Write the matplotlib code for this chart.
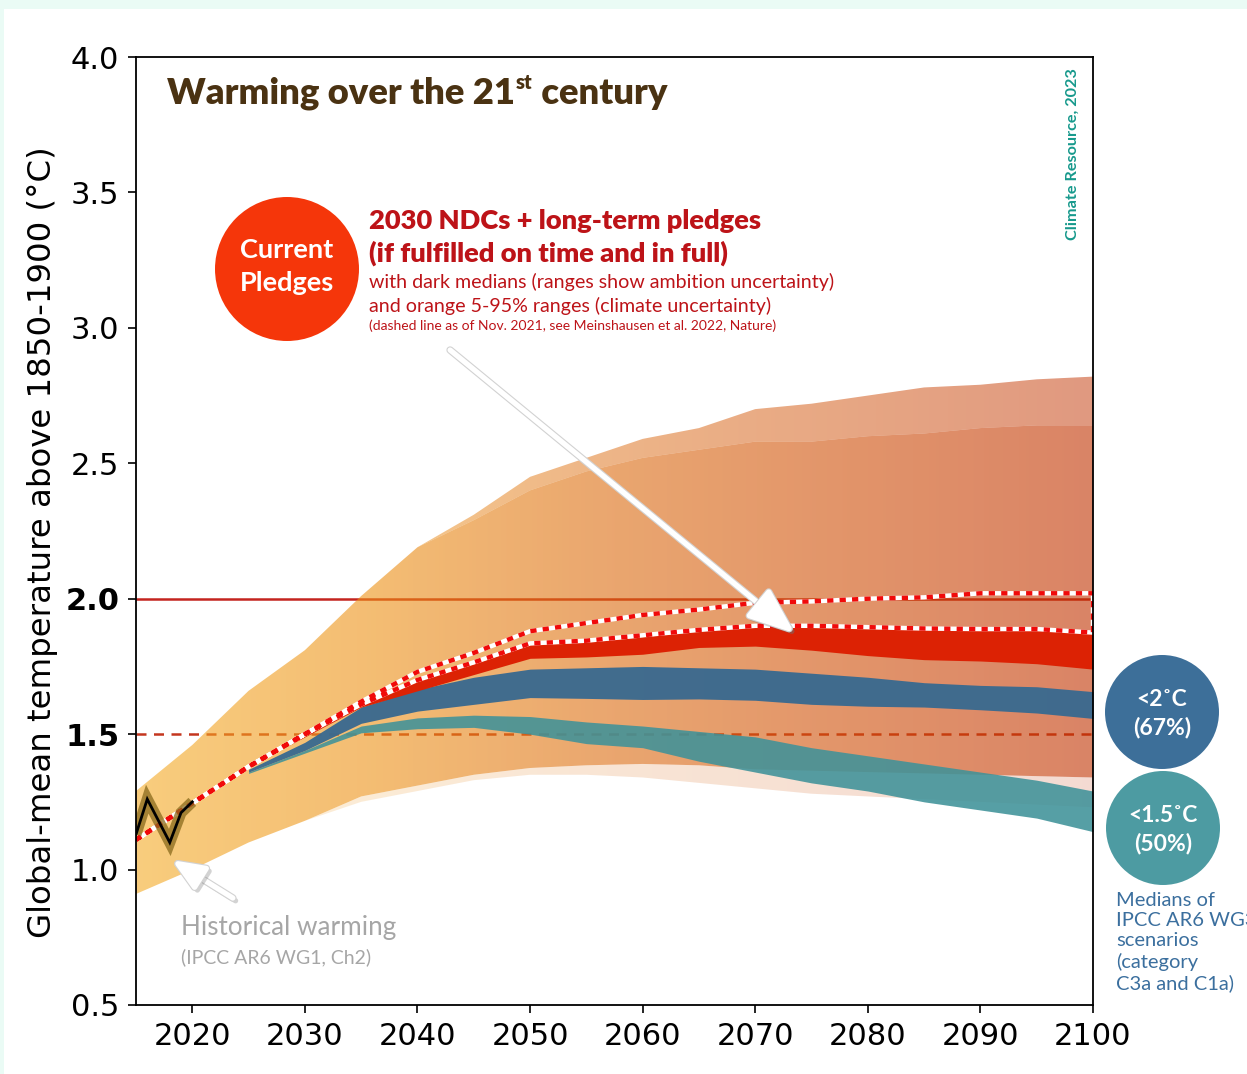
import numpy as np
import matplotlib
matplotlib.use('Agg')
import matplotlib.pyplot as plt
from matplotlib.colors import LinearSegmentedColormap, to_rgb
from matplotlib.patches import Ellipse, Rectangle
import matplotlib.patheffects as pe

# ---------------- data ----------------
years = [2015, 2020, 2025, 2030, 2035, 2040, 2045, 2050, 2055, 2060,
         2065, 2070, 2075, 2080, 2085, 2090, 2095, 2100]

# climate uncertainty 5-95% (current pledges)
clim_upper = [1.29, 1.46, 1.66, 1.81, 2.01, 2.19, 2.29, 2.40, 2.47, 2.52,
              2.55, 2.58, 2.58, 2.60, 2.61, 2.63, 2.64, 2.64]
clim_lower = [0.91, 1.00, 1.10, 1.18, 1.27, 1.31, 1.35, 1.375, 1.385, 1.39,
              1.385, 1.37, 1.365, 1.36, 1.355, 1.35, 1.345, 1.34]
# Nov. 2021 5-95% envelope
clim_upper_2021 = [1.29, 1.46, 1.66, 1.81, 2.01, 2.19, 2.31, 2.45, 2.52, 2.59,
                   2.63, 2.70, 2.72, 2.75, 2.78, 2.79, 2.81, 2.82]
clim_lower_2021 = [0.91, 1.00, 1.10, 1.18, 1.25, 1.29, 1.33, 1.35, 1.35, 1.34,
                   1.32, 1.30, 1.28, 1.27, 1.26, 1.25, 1.24, 1.23]

# ambition range of current pledges (dark red)
pledge_top = [1.11, 1.245, 1.38, 1.50, 1.61, 1.70, 1.76, 1.83, 1.84, 1.86,
              1.88, 1.90, 1.90, 1.895, 1.89, 1.89, 1.89, 1.885]
pledge_bot = [1.11, 1.245, 1.38, 1.49, 1.60, 1.66, 1.72, 1.78, 1.785, 1.795,
              1.82, 1.825, 1.81, 1.79, 1.775, 1.77, 1.76, 1.74]

# dashed outline: pledges as of Nov. 2021
nov21_upper = [1.11, 1.245, 1.38, 1.50, 1.62, 1.73, 1.80, 1.88, 1.91, 1.94,
               1.96, 1.985, 1.99, 2.00, 2.005, 2.02, 2.02, 2.02]
nov21_lower = [1.11, 1.245, 1.38, 1.50, 1.61, 1.70, 1.765, 1.835, 1.845, 1.865,
               1.885, 1.90, 1.90, 1.895, 1.89, 1.888, 1.888, 1.875]

# IPCC AR6 WG3 medians
c3a_top = [None, None, 1.37, 1.47, 1.60, 1.665, 1.71, 1.74, 1.745, 1.75,
           1.745, 1.74, 1.725, 1.71, 1.69, 1.68, 1.675, 1.657]
c3a_bot = [None, None, 1.36, 1.44, 1.54, 1.585, 1.61, 1.635, 1.632, 1.628,
           1.63, 1.625, 1.61, 1.603, 1.60, 1.59, 1.578, 1.558]
c1a_top = [None, None, 1.36, 1.44, 1.53, 1.56, 1.57, 1.565, 1.545, 1.53,
           1.51, 1.49, 1.45, 1.42, 1.39, 1.36, 1.33, 1.29]
c1a_bot = [None, None, 1.355, 1.43, 1.505, 1.52, 1.525, 1.50, 1.465, 1.45,
           1.40, 1.36, 1.32, 1.29, 1.25, 1.22, 1.19, 1.14]

hist_years = [2015, 2016, 2017, 2018, 2019, 2020]
hist_temp = [1.13, 1.26, 1.18, 1.10, 1.21, 1.25]

xticks = [2020, 2030, 2040, 2050, 2060, 2070, 2080, 2090, 2100]
yticks = [0.5, 1.0, 1.5, 2.0, 2.5, 3.0, 3.5, 4.0]

# ---------------- figure ----------------
W, H = 1247, 1074
fig = plt.figure(figsize=(W / 100, H / 100), dpi=100, facecolor='#eafbf5')
fig.add_artist(Rectangle((4 / W, 0), 1, 1 - 9 / H, transform=fig.transFigure,
                         facecolor='white', edgecolor='none', zorder=-10))

def fxy(px, py):
    return px / W, 1 - py / H

ax = fig.add_axes([136 / W, 1 - 1005 / H, (1093 - 136) / W, (1005 - 57) / H])
ax.set_facecolor('none')

yr = np.array(years, dtype=float)

# reference lines (under the semi-transparent orange)
ax.axhline(2.0, color='#c4241f', lw=1.8, zorder=1)
ax.axhline(1.5, color='#c4361f', lw=1.8, ls=(0, (4, 3)), zorder=1)

# horizontal gradient for the orange ranges
alpha_main = 0.6
comp = ['#f9cd7d', '#f4bd73', '#eaa66f', '#e2946a', '#da8466']
base = []
for c in comp:
    rgb = np.array(to_rgb(c))
    b = (rgb - (1 - alpha_main)) / alpha_main
    base.append(np.clip(b, 0, 1))
cmap = LinearSegmentedColormap.from_list('warm', base)
grad = cmap(np.linspace(0, 1, 512))[None, :, :]


def grad_fill(lo, hi, alpha, z):
    poly = ax.fill_between(yr, lo, hi, facecolor='none', lw=0)
    im = ax.imshow(grad, extent=[2015, 2100, 0.5, 4.0], aspect='auto',
                   origin='lower', alpha=alpha, zorder=z, interpolation='bilinear')
    im.set_clip_path(poly.get_paths()[0], transform=ax.transData)


grad_fill(clim_upper, clim_upper_2021, 0.5, 2)
grad_fill(clim_lower_2021, clim_lower, 0.18, 2)
grad_fill(clim_lower, clim_upper, alpha_main, 2)

# IPCC medians
m = slice(2, None)
ax.fill_between(yr[m], np.array(c1a_bot[m], float), np.array(c1a_top[m], float),
                color='#3f9299', alpha=0.88, lw=0, zorder=3)
ax.fill_between(yr[m], np.array(c3a_bot[m], float), np.array(c3a_top[m], float),
                color='#3b6a8f', alpha=0.97, lw=0, zorder=4)

# current pledges ambition range
ax.fill_between(yr, pledge_bot, pledge_top, color='#dc2204', lw=0, zorder=5)

# Nov 2021 outline
ox = np.concatenate([yr, yr[::-1], yr[:1]])
oy = np.concatenate([nov21_upper, nov21_lower[::-1], nov21_upper[:1]])
ax.plot(ox, oy, color='white', lw=3.2, zorder=6, solid_joinstyle='miter')
ax.plot(ox, oy, color='#f00a0a', lw=3.2, ls=(0, (1.4, 1.4)), zorder=6.1)

# historical warming
ax.plot(hist_years, hist_temp, color='#8a6a1c', lw=8, alpha=0.75, zorder=7,
        solid_joinstyle='miter', solid_capstyle='butt')
ax.plot(hist_years, hist_temp, color='black', lw=2.0, zorder=7.1,
        solid_joinstyle='miter')

ax.set_xlim(2015, 2100)
ax.set_ylim(0.5, 4.0)

ax.set_xticks(xticks)
ax.set_xticklabels([str(x) for x in xticks])
ax.set_yticks(yticks)
ax.set_yticklabels(['%.1f' % y for y in yticks])
ax.tick_params(direction='out', length=6, width=1.2, labelsize=22, pad=6,
               colors='black')
for lab in ax.get_yticklabels():
    lab.set_fontfamily('DejaVu Sans')
    if lab.get_text() in ('1.5', '2.0'):
        lab.set_fontweight('bold')
for lab in ax.get_xticklabels():
    lab.set_fontfamily('DejaVu Sans')
for s in ax.spines.values():
    s.set_linewidth(1.3)
    s.set_zorder(10)

fig.text(43 / W, 1 - 542 / H, 'Global-mean temperature above 1850-1900 (°C)',
         rotation=90, ha='center', va='center', fontsize=23.3,
         family=['DejaVu Sans'])

# arrows (white with a soft grey shadow)
arrow_fx = [pe.SimpleLineShadow(offset=(2, -2), shadow_color='#707070', alpha=0.3),
            pe.Stroke(linewidth=5.4, foreground='#d2d2d2'),
            pe.Normal()]
ax.annotate('', xy=(2073.5, 1.873), xytext=(2042.9, 2.918),
            arrowprops=dict(arrowstyle='-|>,head_length=1.4,head_width=0.55',
                            color='white', lw=3.8, mutation_scale=20,
                            shrinkA=0, shrinkB=0, path_effects=arrow_fx),
            zorder=9)
ax.annotate('', xy=(2018.2, 1.035), xytext=(2023.6, 0.895),
            arrowprops=dict(arrowstyle='-|>,head_length=1.2,head_width=0.5',
                            color='white', lw=3.8, mutation_scale=16,
                            shrinkA=0, shrinkB=0, path_effects=arrow_fx),
            zorder=9)

txt_font = ['Lato', 'DejaVu Sans']

# title with superscript
fig.canvas.draw()
r = fig.canvas.get_renderer()
tx, ty = fxy(167, 104)
t1 = fig.text(tx, ty, 'Warming over the 21', fontsize=26.2, fontweight='heavy',
              color='#4a3212', family=txt_font, va='baseline')
bb = t1.get_window_extent(r)
t2 = fig.text(bb.x1 / W + 1 / W, ty + 15 / H, 'st', fontsize=14.5, fontweight='heavy',
              color='#4a3212', family=txt_font, va='baseline')
bb2 = t2.get_window_extent(r)
fig.text(bb2.x1 / W, ty, ' century', fontsize=26.2, fontweight='heavy',
         color='#4a3212', family=txt_font, va='baseline')

# Current pledges circle
cx, cy = fxy(287, 269)
fig.add_artist(Ellipse((cx, cy), 2 * 72 / W, 2 * 72 / H, transform=fig.transFigure,
                       facecolor='#f5360a', edgecolor='none', zorder=5))
fig.text(cx, 1 - 250 / H, 'Current', ha='center', va='center', fontsize=19.5,
         fontweight='bold', color='white', family=txt_font, zorder=6)
fig.text(cx, 1 - 283 / H, 'Pledges', ha='center', va='center', fontsize=19.5,
         fontweight='bold', color='white', family=txt_font, zorder=6)

red = '#bd1318'
fig.text(369 / W, 1 - 229 / H, '2030 NDCs + long-term pledges', fontsize=19.6,
         fontweight='heavy', color=red, family=txt_font, va='baseline')
fig.text(369 / W, 1 - 262 / H, '(if fulfilled on time and in full)', fontsize=19.6,
         fontweight='heavy', color=red, family=txt_font, va='baseline')
fig.text(369 / W, 1 - 288 / H, 'with dark medians (ranges show ambition uncertainty)',
         fontsize=14.1, color=red, family=txt_font, va='baseline')
fig.text(369 / W, 1 - 312 / H, 'and orange 5-95% ranges (climate uncertainty)',
         fontsize=14.1, color=red, family=txt_font, va='baseline')
fig.text(369 / W, 1 - 330 / H,
         '(dashed line as of Nov. 2021, see Meinshausen et al. 2022, Nature)',
         fontsize=10, color=red, family=txt_font, va='baseline')

fig.text(1073 / W, 1 - 154 / H, 'Climate Resource, 2023', rotation=90, ha='center',
         va='center', fontsize=11.7, fontweight='bold', color='#17998c', family=txt_font)

fig.text(181 / W, 1 - 928 / H, 'Historical warming', fontsize=18.8, color='#a6a6a6',
         family=txt_font, va='center')
fig.text(181 / W, 1 - 957 / H, '(IPCC AR6 WG1, Ch2)', fontsize=14, color='#a6a6a6',
         family=txt_font, va='center')

# IPCC circles
for (px, py, col, l1, l2) in [(1162, 712, '#3d6f99', '<2˚C', '(67%)'),
                              (1163, 828, '#4d9ba2', '<1.5˚C', '(50%)')]:
    ex, ey = fxy(px, py)
    fig.add_artist(Ellipse((ex, ey), 2 * 57 / W, 2 * 57 / H, transform=fig.transFigure,
                           facecolor=col, edgecolor='none', zorder=5))
    fig.text(ex, 1 - (py - 13) / H, l1, ha='center', va='center', fontsize=16.5,
             fontweight='bold', color='white', family=txt_font, zorder=6)
    fig.text(ex, 1 - (py + 15) / H, l2, ha='center', va='center', fontsize=16.5,
             fontweight='bold', color='white', family=txt_font, zorder=6)

fig.text(1116 / W, 1 - 892 / H,
         'Medians of\nIPCC AR6 WG3\nscenarios\n(category\nC3a and C1a)',
         fontsize=14.5, color='#3b6f9e', family=txt_font, va='top', ha='left',
         linespacing=1.22)

fig.savefig('out.png', dpi=100, facecolor=fig.get_facecolor())
